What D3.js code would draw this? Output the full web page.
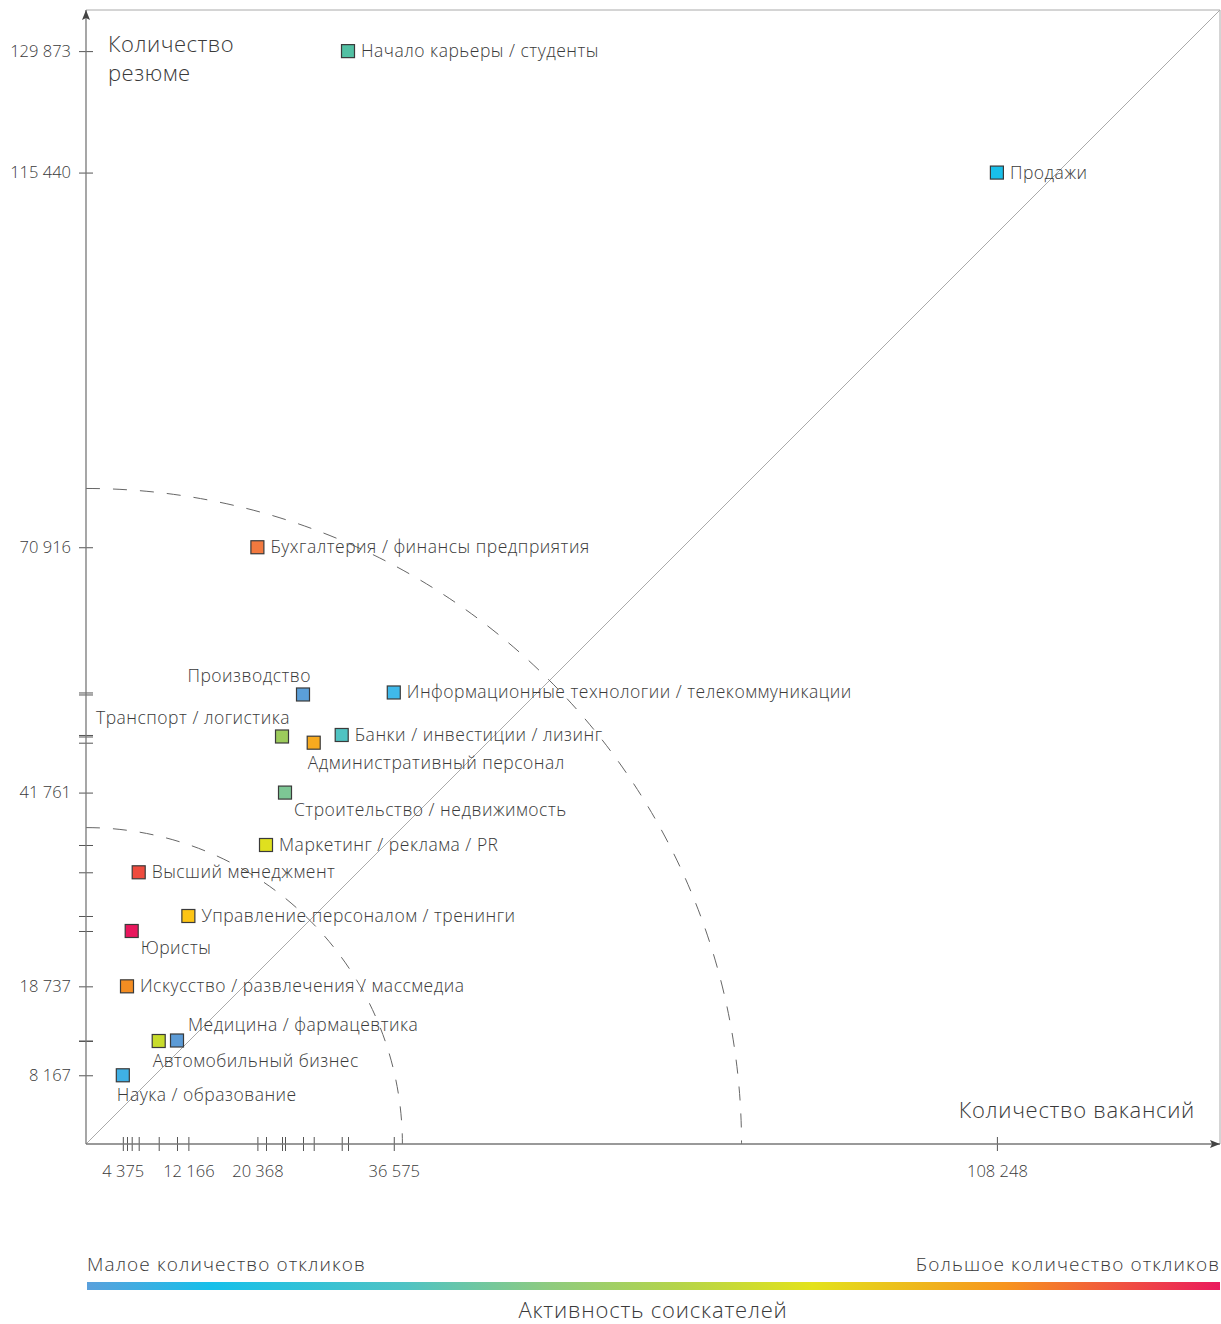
<!DOCTYPE html>
<html>
<head>
<meta charset="utf-8">
<script src="https://cdnjs.cloudflare.com/ajax/libs/d3/7.8.5/d3.min.js"></script>
<style>
  body { margin: 0; background: #fff; }
  text { font-family: "Open Sans", sans-serif; font-weight: 300; fill: #3a3a3a; }
</style>
</head>
<body>
<div id="chart"></div>
<script>
// --- data ---
const names = [
  "Начало карьеры / студенты", "Продажи", "Бухгалтерия / финансы предприятия",
  "Производство", "Информационные технологии / телекоммуникации", "Транспорт / логистика",
  "Административный персонал", "Банки / инвестиции / лизинг", "Строительство / недвижимость",
  "Маркетинг / реклама / PR", "Высший менеджмент", "Управление персоналом / тренинги",
  "Юристы", "Искусство / развлечения / массмедиа", "Медицина / фармацевтика",
  "Автомобильный бизнес", "Наука / образование"
];
const vacancies = [31136, 108248, 20368, 25788, 36575, 23293, 27060, 30387, 23649,
  21391, 6263, 12166, 5431, 4872, 10814, 8640, 4375];
const resumes = [129873, 115440, 70916, 53419, 53657, 48427, 47690, 48606, 41761,
  35533, 32289, 27095, 25313, 18737, 12300, 12240, 8167];
const colors = ["#52c0a3", "#19bfe9", "#f2793f", "#5b9fd8", "#3fb9ea", "#9ccb5b",
  "#f7aa1f", "#4fc3c2", "#7dc795", "#dfe01f", "#ee4b3e", "#fdc515",
  "#e8175d", "#f48d22", "#5c9bd6", "#c8dc2b", "#3fb0e5"];
// label placement per category
const placement = ["right", "right", "right", "aboveLeft", "right", "aboveLeft",
  "below", "right", "belowRight", "right", "right", "right",
  "belowRight", "right", "aboveRight", "below", "below"];

const xLabeled = [4375, 12166, 20368, 36575, 108248];
const yLabeled = [8167, 18737, 41761, 70916, 115440, 129873];
const circleRadii = [37600, 77900];
const gradientStops = [
  { offset: 0, color: "#5aa0dc" }, { offset: 0.11, color: "#16c0ea" },
  { offset: 0.28, color: "#4fc3c4" }, { offset: 0.41, color: "#8fcb7e" },
  { offset: 0.52, color: "#b4d44a" }, { offset: 0.64, color: "#e3e21b" },
  { offset: 0.81, color: "#f7941e" }, { offset: 1, color: "#ea1a5d" }
];

const W = 1221, H = 1324;
const maxV = 134760;
const x = d3.scaleLinear().domain([0, maxV]).range([86, 1220]);
const y = d3.scaleLinear().domain([0, maxV]).range([1144, 10]);
const fmt = d3.formatLocale({ decimal: ",", thousands: " ", grouping: [3], currency: ["", ""] }).format(",d");

const svg = d3.select("#chart").append("svg")
  .attr("width", W).attr("height", H);

const defs = svg.append("defs");
defs.append("marker").attr("id", "arrow")
  .attr("viewBox", "0 0 10 10").attr("refX", 10).attr("refY", 5)
  .attr("markerWidth", 10).attr("markerHeight", 10)
  .attr("markerUnits", "userSpaceOnUse").attr("orient", "auto")
  .append("path").attr("d", "M0,1 L10,5 L0,9 L2,5 Z").attr("fill", "#444");

// frame
svg.append("path")
  .attr("d", `M${x(0)},${y(maxV)} H${x(maxV)} V${y(0)}`)
  .attr("fill", "none").attr("stroke", "#aaa").attr("stroke-width", 1);

// diagonal
svg.append("line")
  .attr("x1", x(0)).attr("y1", y(0)).attr("x2", x(maxV)).attr("y2", y(maxV))
  .attr("stroke", "#aaa").attr("stroke-width", 1);

// dashed arcs
svg.selectAll(".arc").data(circleRadii).join("path")
  .attr("class", "arc")
  .attr("d", r => `M${x(0)},${y(r)} A${x(r) - x(0)},${y(0) - y(r)} 0 0 1 ${x(r)},${y(0)}`)
  .attr("fill", "none").attr("stroke", "#666").attr("stroke-width", 1)
  .attr("stroke-dasharray", "14,13");

// axes
const xAxis = d3.axisBottom(x).tickValues(vacancies)
  .tickSize(7).tickPadding(14)
  .tickFormat(d => xLabeled.includes(d) ? fmt(d) : "");
const gx = svg.append("g").attr("transform", `translate(0,${y(0)})`).call(xAxis);
gx.select(".domain").remove();
gx.selectAll(".tick line").attr("y1", -7).attr("stroke", "#555");
gx.selectAll(".tick text").attr("font-size", 16.5).attr("fill", "#3a3a3a")
  .style("font-family", "'Open Sans', sans-serif").style("font-weight", 300);

const yAxis = d3.axisLeft(y).tickValues(resumes)
  .tickSize(7).tickPadding(8)
  .tickFormat(d => yLabeled.includes(d) ? fmt(d) : "");
const gy = svg.append("g").attr("transform", `translate(${x(0)},0)`).call(yAxis);
gy.select(".domain").remove();
gy.selectAll(".tick line").attr("x1", 7).attr("stroke", "#555");
gy.selectAll(".tick text").attr("font-size", 16.5).attr("fill", "#3a3a3a")
  .style("font-family", "'Open Sans', sans-serif").style("font-weight", 300);

svg.append("line")
  .attr("x1", x(0)).attr("y1", y(0)).attr("x2", x(0)).attr("y2", y(maxV))
  .attr("stroke", "#777").attr("stroke-width", 1.3).attr("marker-end", "url(#arrow)");
svg.append("line")
  .attr("x1", x(0)).attr("y1", y(0)).attr("x2", x(maxV)).attr("y2", y(0))
  .attr("stroke", "#777").attr("stroke-width", 1.3).attr("marker-end", "url(#arrow)");

// axis titles
const yTitle = svg.append("text").attr("x", 108).attr("y", 52)
  .attr("font-size", 22).attr("letter-spacing", 0.5);
yTitle.append("tspan").attr("x", 108).attr("dy", 0).text("Количество");
yTitle.append("tspan").attr("x", 108).attr("dy", 29).text("резюме");
svg.append("text").attr("x", 1195).attr("y", 1118).attr("font-size", 22)
  .attr("letter-spacing", 0.7)
  .attr("text-anchor", "end").text("Количество вакансий");

// points
const pts = names.map((n, i) => ({ name: n, v: vacancies[i], r: resumes[i], c: colors[i], p: placement[i] }));
const sq = 13;
const g = svg.append("g");
g.selectAll("rect").data(pts).join("rect")
  .attr("x", d => x(d.v) - sq / 2).attr("y", d => y(d.r) - sq / 2)
  .attr("width", sq).attr("height", sq)
  .attr("fill", d => d.c).attr("stroke", "#3a3a3a").attr("stroke-width", 1.2);

const offs = {
  right: { dx: 13, dy: 6, a: "start" },
  aboveLeft: { dx: 8, dy: -12, a: "end" },
  below: { dx: -6, dy: 26, a: "start" },
  belowRight: { dx: 9, dy: 23, a: "start" },
  aboveRight: { dx: 11, dy: -9, a: "start" }
};
g.selectAll("text").data(pts).join("text")
  .attr("x", d => x(d.v) + offs[d.p].dx)
  .attr("y", d => y(d.r) + offs[d.p].dy)
  .attr("text-anchor", d => offs[d.p].a)
  .attr("font-size", 17.5)
  .attr("letter-spacing", 0.5)
  .text(d => d.name);

// gradient legend
const grad = defs.append("linearGradient").attr("id", "activity")
  .attr("x1", "0%").attr("x2", "100%");
grad.selectAll("stop").data(gradientStops).join("stop")
  .attr("offset", d => d.offset).attr("stop-color", d => d.color);
svg.append("rect").attr("x", 87).attr("y", 1282).attr("width", 1133).attr("height", 8)
  .attr("fill", "url(#activity)");
svg.append("text").attr("x", 87).attr("y", 1271).attr("font-size", 19)
  .attr("letter-spacing", 1.1)
  .text("Малое количество откликов");
svg.append("text").attr("x", 1220).attr("y", 1271).attr("font-size", 19)
  .attr("letter-spacing", 1.1)
  .attr("text-anchor", "end").text("Большое количество откликов");
svg.append("text").attr("x", 653).attr("y", 1318).attr("font-size", 22)
  .attr("letter-spacing", 0.8)
  .attr("text-anchor", "middle").text("Активность соискателей");
</script>
</body>
</html>
